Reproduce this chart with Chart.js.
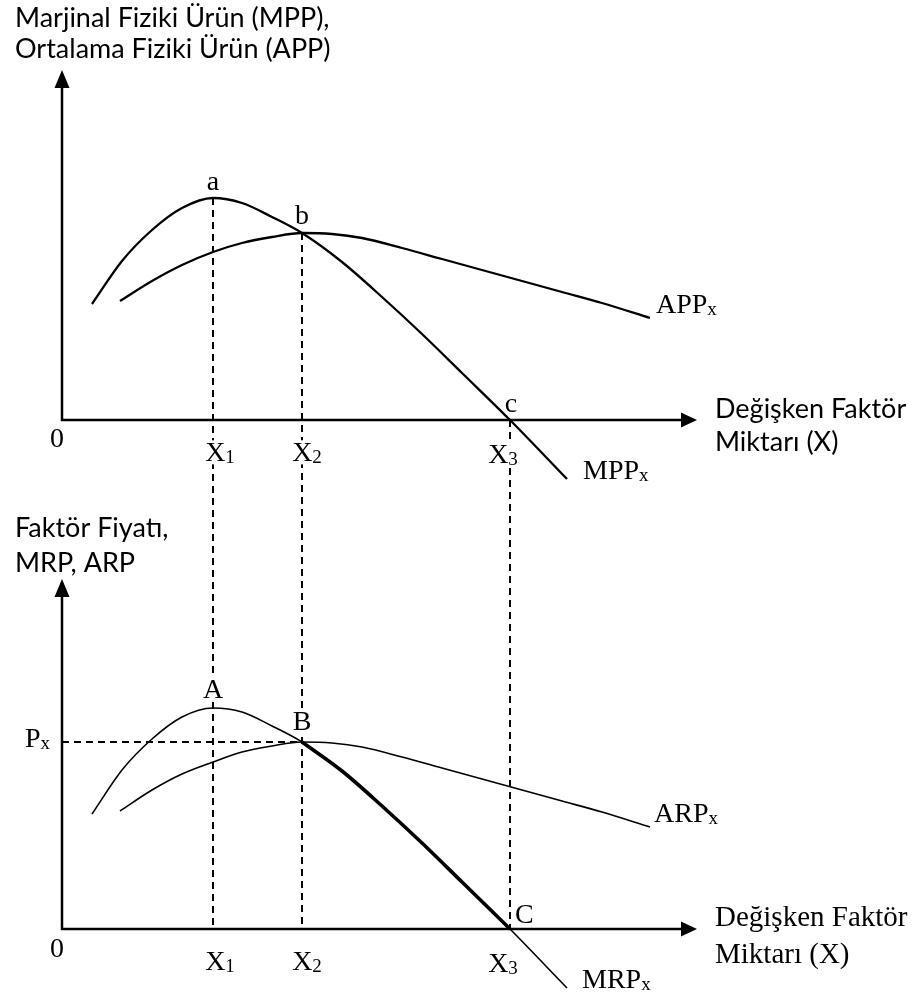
<!DOCTYPE html>
<html>
<head>
<meta charset="utf-8">
<script src="https://cdn.jsdelivr.net/npm/chart.js@4.4.1/dist/chart.umd.min.js"></script>
<style>
  html, body { margin: 0; padding: 0; background: #ffffff; }
  canvas { display: block; }
</style>
</head>
<body>
<canvas id="c" width="915" height="1005"></canvas>
<script>
// ---------- data (arbitrary units) ----------
// Upper panel: marginal and average physical product
const xMPP = [3.0, 6.0, 9.0, 12.0, 15.1, 18.0, 21.0, 24.0, 28.0, 32.0, 36.0, 40.0, 44.8, 50.5];
const yMPP = [11.6, 15.9, 19.0, 21.2, 22.2, 21.7, 20.3, 18.7, 15.8, 12.3, 8.6, 4.7, 0.0, -5.9];
const xAPP = [5.8, 9.0, 12.0, 15.1, 18.0, 21.0, 24.0, 27.0, 30.0, 34.0, 38.0, 42.0, 46.0, 50.0, 54.0, 58.8];
const yAPP = [11.9, 13.9, 15.5, 16.8, 17.7, 18.3, 18.7, 18.6, 18.2, 17.2, 16.1, 15.0, 13.9, 12.8, 11.7, 10.2];
// Lower panel: marginal and average revenue product
const xMRP = [3.0, 6.0, 9.0, 12.0, 15.1, 18.0, 21.0, 24.0, 28.0, 32.0, 36.0, 40.0, 44.8, 50.5];
const yMRP = [11.5, 15.9, 19.0, 21.2, 22.1, 21.7, 20.3, 18.7, 15.8, 12.3, 8.6, 4.7, 0.0, -5.9];
const xARP = [5.8, 9.0, 12.0, 15.1, 18.0, 21.0, 24.0, 27.0, 30.0, 34.0, 38.0, 42.0, 46.0, 50.0, 54.0, 58.8];
const yARP = [11.8, 13.9, 15.5, 16.7, 17.7, 18.3, 18.7, 18.6, 18.2, 17.2, 16.1, 15.0, 13.9, 12.8, 11.7, 10.2];
// Emphasised MRP segment between B and C (demand for the factor)
const xDemand = [24.0, 28.0, 32.0, 36.0, 40.0, 44.8];
const yDemand = [18.7, 15.8, 12.3, 8.6, 4.7, 0.0];
// Tick positions / labels
const xTicks = [15.1, 24.0, 44.8];
const xTickMain = ['X', 'X', 'X'];
const xTickSub = ['1', '2', '3'];
const priceLevel = 18.7;          // P_x
const axisMaxX = 63.5;
const axisMaxY = 35.0;

// ---------- styling ----------
const SERIF = '"Liberation Serif", "Times New Roman", serif';
const SANS = 'Lato, Carlito, Calibri, "Noto Sans", sans-serif';
const LBL = 28, SUB = 19;

function pts(xs, ys) { return xs.map((x, i) => ({ x: x, y: ys[i] })); }

function drawLabel(ctx, main, sub, x, y, align, size, subSize, bg) {
  ctx.font = size + 'px ' + SERIF;
  const w1 = ctx.measureText(main).width;
  ctx.font = subSize + 'px ' + SERIF;
  const w2 = sub ? ctx.measureText(sub).width : 0;
  const tw = w1 + w2;
  let left = x;
  if (align === 'center') left = x - tw / 2;
  if (bg) {
    ctx.fillStyle = '#ffffff';
    ctx.fillRect(left - 2, y - size * 0.74, tw + 4, size * 0.86);
  }
  ctx.fillStyle = '#000000';
  ctx.textAlign = 'left';
  ctx.textBaseline = 'alphabetic';
  ctx.font = size + 'px ' + SERIF;
  ctx.fillText(main, left, y);
  if (sub) {
    ctx.font = subSize + 'px ' + SERIF;
    ctx.fillText(sub, left + w1, y + 2);
  }
}

function arrowAxes(ctx, x0, y0, xTip, yTip) {
  ctx.save();
  ctx.strokeStyle = '#000';
  ctx.fillStyle = '#000';
  ctx.lineWidth = 2.5;
  ctx.setLineDash([]);
  ctx.beginPath();
  ctx.moveTo(x0, yTip + 12);
  ctx.lineTo(x0, y0);
  ctx.lineTo(xTip - 12, y0);
  ctx.stroke();
  ctx.beginPath();
  ctx.moveTo(x0, yTip);
  ctx.lineTo(x0 - 7.5, yTip + 18);
  ctx.lineTo(x0 + 7.5, yTip + 18);
  ctx.closePath();
  ctx.fill();
  ctx.beginPath();
  ctx.moveTo(xTip, y0);
  ctx.lineTo(xTip - 16, y0 - 7.5);
  ctx.lineTo(xTip - 16, y0 + 7.5);
  ctx.closePath();
  ctx.fill();
  ctx.restore();
}

const diagramPlugin = {
  id: 'diagram',
  beforeDatasetsDraw(chart) {
    const ctx = chart.ctx;
    const sx = chart.scales.x, yt = chart.scales.yTop, yb = chart.scales.yBot;
    const X = v => sx.getPixelForValue(v);
    const peakTop = Math.max(...yMPP);
    ctx.save();
    ctx.strokeStyle = '#000';
    ctx.lineWidth = 2;
    ctx.setLineDash([7, 5]);
    const starts = [yt.getPixelForValue(peakTop), yt.getPixelForValue(priceLevel), yt.getPixelForValue(0)];
    xTicks.forEach((t, i) => {
      ctx.beginPath();
      ctx.moveTo(X(t), starts[i]);
      ctx.lineTo(X(t), yb.getPixelForValue(0));
      ctx.stroke();
    });
    ctx.beginPath();
    ctx.moveTo(X(0), yb.getPixelForValue(priceLevel));
    ctx.lineTo(X(xTicks[1]), yb.getPixelForValue(priceLevel));
    ctx.stroke();
    ctx.setLineDash([]);

    const tickDx = [7, 5, -7];
    xTicks.forEach((t, i) => {
      drawLabel(ctx, xTickMain[i], xTickSub[i], X(t) + tickDx[i], yt.getPixelForValue(0) + 41 + (i === 2 ? 2 : 0), 'center', LBL, SUB, true);
      drawLabel(ctx, xTickMain[i], xTickSub[i], X(t) + tickDx[i], yb.getPixelForValue(0) + 41 + (i === 2 ? 2 : 0), 'center', LBL, SUB, false);
    });
    drawLabel(ctx, '0', '', X(0) - 5, yt.getPixelForValue(0) + 27, 'center', LBL, SUB, false);
    drawLabel(ctx, '0', '', X(0) - 5, yb.getPixelForValue(0) + 28, 'center', LBL, SUB, false);
    drawLabel(ctx, 'a', '', X(xTicks[0]), yt.getPixelForValue(peakTop) - 8, 'center', LBL, SUB, false);
    drawLabel(ctx, 'b', '', X(xTicks[1]), yt.getPixelForValue(priceLevel) - 9, 'center', LBL, SUB, false);
    drawLabel(ctx, 'c', '', X(xTicks[2]) + 1, yt.getPixelForValue(0) - 8, 'center', LBL, SUB, false);
    drawLabel(ctx, 'A', '', X(xTicks[0]), yb.getPixelForValue(Math.max(...yMRP)) - 10, 'center', LBL, SUB, true);
    drawLabel(ctx, 'B', '', X(xTicks[1]), yb.getPixelForValue(priceLevel) - 12, 'center', LBL, SUB, true);
    drawLabel(ctx, 'C', '', X(xTicks[2]) + 5, yb.getPixelForValue(0) - 6, 'left', LBL, SUB, false);
    const lastA = xAPP.length - 1, lastM = xMPP.length - 1;
    drawLabel(ctx, 'APP', 'x', X(xAPP[lastA]) + 6, yt.getPixelForValue(yAPP[lastA]) - 5, 'left', LBL, SUB, false);
    drawLabel(ctx, 'MPP', 'x', X(xMPP[lastM]) + 16, yt.getPixelForValue(yMPP[lastM]), 'left', LBL, SUB, false);
    drawLabel(ctx, 'ARP', 'x', X(xARP[lastA]) + 4, yb.getPixelForValue(yARP[lastA]) - 5, 'left', LBL, SUB, false);
    drawLabel(ctx, 'MRP', 'x', X(xMRP[lastM]) + 15, yb.getPixelForValue(yMRP[lastM]), 'left', LBL, SUB, false);
    drawLabel(ctx, 'P', 'x', 25, yb.getPixelForValue(priceLevel) + 5, 'left', LBL, SUB, false);

    ctx.fillStyle = '#000';
    ctx.textAlign = 'left';
    ctx.textBaseline = 'alphabetic';
    ctx.font = '27px ' + SANS;
    ctx.fillText('Marjinal Fiziki Ürün (MPP),', 15, 27);
    ctx.fillText('Ortalama Fiziki Ürün (APP)', 15, 58);
    ctx.fillText('Faktör Fiyatı,', 15, 537);
    ctx.fillText('MRP, ARP', 15, 572);
    ctx.fillText('Değişken Faktör', 715, 418);
    ctx.fillText('Miktarı (X)', 715, 451);
    ctx.font = '29px ' + SERIF;
    ctx.fillText('Değişken Faktör', 715, 926);
    ctx.fillText('Miktarı (X)', 715, 963);
    ctx.restore();
  },
  afterDatasetsDraw(chart) {
    const ctx = chart.ctx;
    const sx = chart.scales.x, yt = chart.scales.yTop, yb = chart.scales.yBot;
    arrowAxes(ctx, sx.getPixelForValue(0), yt.getPixelForValue(0), sx.getPixelForValue(axisMaxX), yt.getPixelForValue(axisMaxY));
    arrowAxes(ctx, sx.getPixelForValue(0), yb.getPixelForValue(0), sx.getPixelForValue(axisMaxX), yb.getPixelForValue(axisMaxY));
  }
};

const lineStyle = (w) => ({
  borderColor: '#000000',
  borderWidth: w,
  pointRadius: 0,
  fill: false,
  cubicInterpolationMode: 'monotone',
  clip: false
});

new Chart(document.getElementById('c'), {
  type: 'line',
  data: {
    datasets: [
      Object.assign({ label: 'MPPx', data: pts(xMPP, yMPP), yAxisID: 'yTop' }, lineStyle(2.3)),
      Object.assign({ label: 'APPx', data: pts(xAPP, yAPP), yAxisID: 'yTop' }, lineStyle(2.3)),
      Object.assign({ label: 'MRPx', data: pts(xMRP, yMRP), yAxisID: 'yBot' }, lineStyle(1.6)),
      Object.assign({ label: 'ARPx', data: pts(xARP, yARP), yAxisID: 'yBot' }, lineStyle(1.6)),
      Object.assign({ label: 'MRPx (B–C)', data: pts(xDemand, yDemand), yAxisID: 'yBot' }, lineStyle(3.6))
    ]
  },
  options: {
    responsive: false,
    animation: false,
    devicePixelRatio: 1,
    layout: { padding: { left: 62, right: 218, top: 0, bottom: 0 } },
    plugins: { legend: { display: false }, tooltip: { enabled: false }, title: { display: false } },
    scales: {
      x: { type: 'linear', min: 0, max: axisMaxX, display: false },
      yTop: { type: 'linear', position: 'left', min: -58.5, max: 42.0, display: false },
      yBot: { type: 'linear', position: 'left', min: -7.6, max: 92.9, display: false }
    }
  },
  plugins: [diagramPlugin]
});
</script>
</body>
</html>
